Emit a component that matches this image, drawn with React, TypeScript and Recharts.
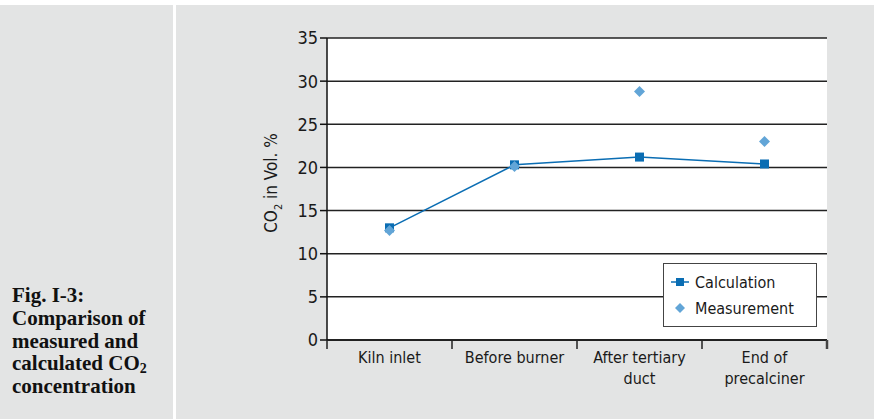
import React from "react";
import { LineChart, Line, XAxis, YAxis, CartesianGrid } from "recharts";

const categories = ["Kiln inlet", "Before burner", "After tertiary\nduct", "End of\nprecalciner"];
const calculation = [13.0, 20.3, 21.2, 20.4];
const measurement = [12.7, 20.1, 28.8, 23.0];
const yTicks = [0, 5, 10, 15, 20, 25, 30, 35];

const data = categories.map((c, i) => ({
  name: c,
  calculation: calculation[i],
  measurement: measurement[i],
}));

const FONT = "'DejaVu Sans Condensed', 'DejaVu Sans', sans-serif";
const CALC = "#0a6db3";
const MEAS = "#62a5d7";
const PLOT_W = 500;
const BAND = PLOT_W / categories.length;

function XTick(props: any) {
  const { x, y, payload, index } = props;
  const lines = String(payload.value).split("\n");
  const left = x - BAND / 2;
  return (
    <g>
      <line x1={left} y1={y - 8} x2={left} y2={y + 1} stroke="#222" strokeWidth={1.5} />
      {index === categories.length - 1 && (
        <line x1={left + BAND} y1={y - 8} x2={left + BAND} y2={y + 1} stroke="#444" strokeWidth={2.5} />
      )}
      <text x={x} y={y + 15} textAnchor="middle" fontFamily={FONT} fontSize={16} fill="#1a1a1a">
        {lines.map((l, i) => (
          <tspan key={i} x={x} dy={i === 0 ? 0 : 21}>
            {l}
          </tspan>
        ))}
      </text>
    </g>
  );
}

function Square(props: any) {
  const { cx, cy } = props;
  if (cx == null || cy == null) return null;
  return <rect x={cx - 4.5} y={cy - 4.5} width={9} height={9} fill={CALC} />;
}

function Diamond(props: any) {
  const { cx, cy } = props;
  if (cx == null || cy == null) return null;
  return <path d={`M${cx},${cy - 5.5} L${cx + 5.5},${cy} L${cx},${cy + 5.5} L${cx - 5.5},${cy} Z`} fill={MEAS} />;
}

function LegendBox() {
  return (
    <div
      style={{
        position: "absolute",
        left: 663,
        top: 263,
        width: 154,
        height: 64,
        border: "1.5px solid #444",
        background: "#fff",
        fontFamily: FONT,
        fontSize: 16,
        color: "#1a1a1a",
        boxSizing: "border-box",
        padding: "5px 0 0 7px",
      }}
    >
      <div style={{ display: "flex", alignItems: "center", height: 26 }}>
        <svg width={18} height={12} style={{ marginRight: 6 }}>
          <line x1={0} y1={6} x2={18} y2={6} stroke={CALC} strokeWidth={1.5} />
          <rect x={5} y={2} width={8} height={8} fill={CALC} />
        </svg>
        Calculation
      </div>
      <div style={{ display: "flex", alignItems: "center", height: 26 }}>
        <svg width={18} height={12} style={{ marginRight: 6 }}>
          <path d="M9,1 L14,6 L9,11 L4,6 Z" fill={MEAS} />
        </svg>
        Measurement
      </div>
    </div>
  );
}

function YLabel() {
  return (
    <text
      transform="translate(277,183) rotate(-90)"
      textAnchor="middle"
      fontFamily={FONT}
      fontSize={17}
      fill="#1a1a1a"
    >
      CO
      <tspan fontSize={11} dy={5}>2</tspan>
      <tspan dy={-5}> in Vol. %</tspan>
    </text>
  );
}

export default function App() {
  return (
    <div
      style={{
        position: "absolute",
        left: 0,
        top: 0,
        width: 874,
        height: 419,
        background: "#e3e4e4",
        overflow: "hidden",
      }}
    >
      <div style={{ position: "absolute", left: 0, top: 0, width: 874, height: 5, background: "#fff" }} />
      <div style={{ position: "absolute", left: 173, top: 0, width: 3, height: 419, background: "#fff" }} />
      <div
        style={{
          position: "absolute",
          left: 12,
          top: 284,
          fontFamily: "'Liberation Serif', 'Times New Roman', serif",
          fontWeight: "bold",
          fontSize: 21,
          lineHeight: "22.8px",
          color: "#111",
        }}
      >
        Fig. I-3:
        <br />
        Comparison of
        <br />
        measured and
        <br />
        calculated CO<sub style={{ fontSize: 14, verticalAlign: "-3px", lineHeight: 0 }}>2</sub>
        <br />
        concentration
      </div>
      <div style={{ position: "absolute", left: 0, top: 0 }}>
        <LineChart width={874} height={419} data={data} margin={{ top: 38, right: 47, bottom: 19, left: 267 }}>
          <CartesianGrid vertical={false} stroke="#222" strokeWidth={1.5} fill="#fff" fillOpacity={1} />
          <XAxis
            dataKey="name"
            scale="band"
            interval={0}
            height={60}
            axisLine={{ stroke: "#111", strokeWidth: 1.5 }}
            tickLine={false}
            tick={<XTick />}
          />
          <YAxis
            domain={[0, 35]}
            ticks={yTicks}
            width={60}
            interval={0}
            axisLine={{ stroke: "#111", strokeWidth: 1.5 }}
            tickLine={{ stroke: "#111", strokeWidth: 1.5 }}
            tickSize={7}
            tick={{ fontFamily: FONT, fontSize: 18, fill: "#1a1a1a" }}
            label={<YLabel />}
          />
          <YAxis
            yAxisId="right"
            orientation="right"
            width={0}
            domain={[0, 35]}
            tick={false}
            tickLine={false}
            axisLine={{ stroke: "#444", strokeWidth: 2.5 }}
          />
          <Line
            dataKey="calculation"
            name="Calculation"
            stroke={CALC}
            strokeWidth={1.5}
            dot={<Square />}
            activeDot={false}
            isAnimationActive={false}
          />
          <Line
            dataKey="measurement"
            name="Measurement"
            stroke="none"
            dot={<Diamond />}
            activeDot={false}
            isAnimationActive={false}
          />
        </LineChart>
      </div>
      <LegendBox />
    </div>
  );
}
